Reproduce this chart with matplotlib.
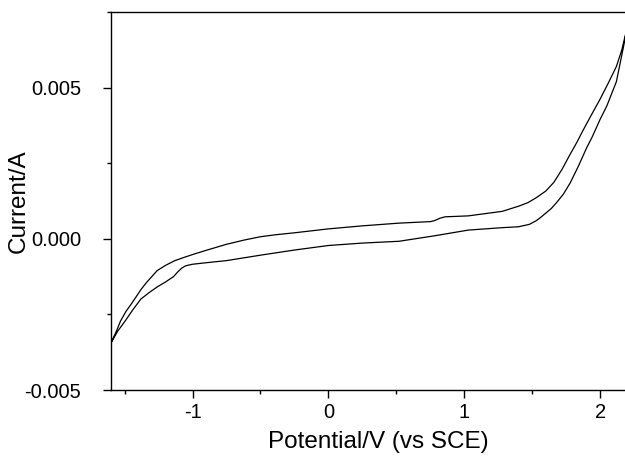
import matplotlib
matplotlib.use("Agg")
import matplotlib.pyplot as plt
from matplotlib.ticker import MultipleLocator, FormatStrFormatter
import numpy as np

plt.rcParams.update({"font.family": ["Liberation Sans", "DejaVu Sans"], "axes.unicode_minus": False})

# forward sweep (upper branch), potential in V, current in mA
v_fwd = [-1.60, -1.56, -1.53, -1.49, -1.45, -1.42, -1.38, -1.34, -1.30, -1.26, -1.20, -1.13,
         -1.06, -1.00, -0.90, -0.75, -0.62, -0.50, -0.38, -0.25, 0.00, 0.25, 0.52, 0.75,
         0.78, 0.82, 0.86, 0.92, 1.03, 1.28, 1.40, 1.47, 1.53, 1.60, 1.66, 1.72, 1.78, 1.83,
         1.87, 1.93, 2.00, 2.06, 2.12, 2.16, 2.20]
i_fwd = [-3.44, -3.05, -2.72, -2.40, -2.15, -1.95, -1.68, -1.45, -1.25, -1.05, -0.88, -0.72,
         -0.61, -0.52, -0.38, -0.18, -0.04, 0.07, 0.14, 0.20, 0.33, 0.43, 0.52, 0.57,
         0.60, 0.68, 0.73, 0.74, 0.76, 0.91, 1.08, 1.20, 1.36, 1.58, 1.87, 2.30, 2.80, 3.20,
         3.55, 4.05, 4.62, 5.15, 5.70, 6.25, 7.00]
# reverse sweep (lower branch)
v_rev = [2.20, 2.17, 2.12, 2.05, 2.00, 1.944, 1.90, 1.84, 1.78, 1.73, 1.68, 1.64, 1.60, 1.56,
         1.53, 1.48, 1.40, 1.28, 1.03, 0.78, 0.52, 0.25, 0.00, -0.25, -0.50, -0.75, -0.90,
         -1.00, -1.05, -1.08, -1.11, -1.14, -1.20, -1.26, -1.32, -1.38, -1.44, -1.49, -1.55, -1.60]
i_rev = [7.00, 6.30, 5.20, 4.40, 3.95, 3.39, 3.00, 2.40, 1.85, 1.48, 1.20, 1.00, 0.85, 0.70,
         0.60, 0.48, 0.40, 0.37, 0.29, 0.10, -0.08, -0.14, -0.22, -0.37, -0.54, -0.72, -0.79,
         -0.84, -0.89, -0.97, -1.10, -1.25, -1.43, -1.59, -1.78, -1.99, -2.35, -2.68, -3.05, -3.44]

fig = plt.figure(figsize=(6.25, 4.62), dpi=100)
ax = fig.add_axes([0.1776, 0.1558, 0.826, 0.818])

v = np.array(v_fwd + v_rev)
i = np.array(i_fwd + i_rev) * 1e-3
ax.plot(v, i, color="black", lw=0.9)

ax.set_xlim(-1.6, 2.2)
ax.set_ylim(-0.005, 0.0075)
ax.xaxis.set_major_locator(MultipleLocator(1))
ax.xaxis.set_minor_locator(MultipleLocator(0.5))
ax.yaxis.set_major_locator(MultipleLocator(0.005))
ax.yaxis.set_minor_locator(MultipleLocator(0.0025))
ax.xaxis.set_major_formatter(FormatStrFormatter("%g"))
ax.yaxis.set_major_formatter(FormatStrFormatter("%.3f"))
ax.spines["right"].set_visible(False)
for s in ax.spines.values():
    s.set_linewidth(1.0)
ax.tick_params(which="major", direction="out", length=6, width=1, labelsize=14.5)
ax.tick_params(which="minor", direction="out", length=3, width=1)
ax.tick_params(axis="x", which="major", pad=3)
ax.tick_params(axis="y", which="major", pad=15.5)
ax.tick_params(top=False, right=False)
ax.set_xlabel("Potential/V (vs SCE)", fontsize=17.5)
ax.set_ylabel("Current/A", fontsize=17.5)
ax.xaxis.set_label_coords(0.517, -0.108)
ax.yaxis.set_label_coords(-0.157, 0.5)

fig.savefig("out.png", dpi=100)
